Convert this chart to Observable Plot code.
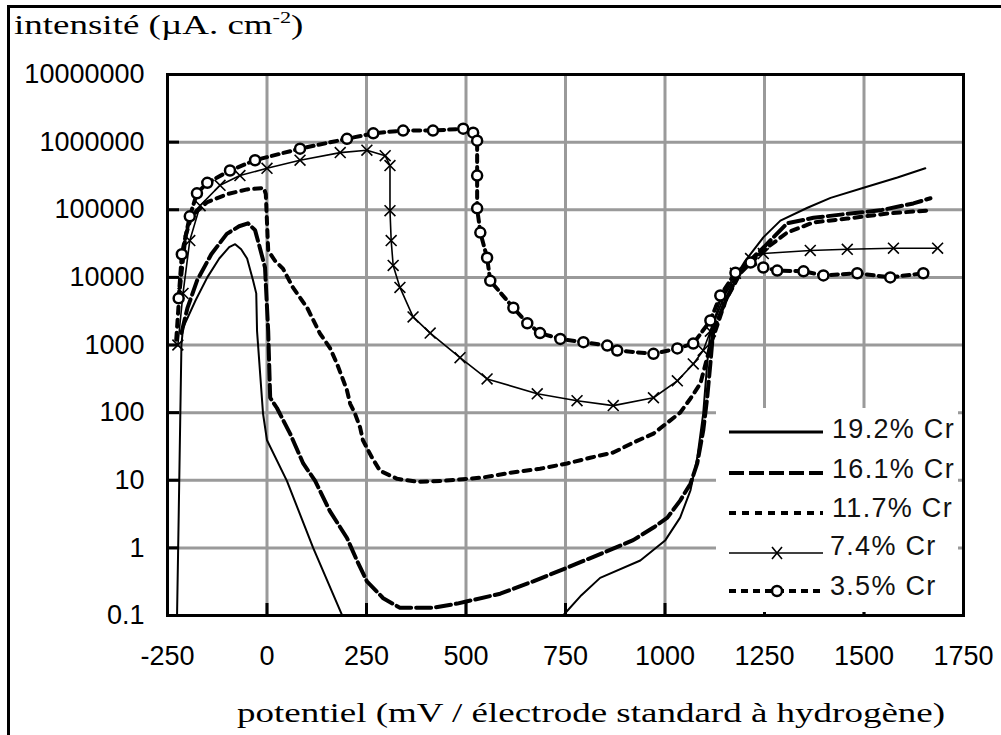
<!DOCTYPE html>
<html>
<head>
<meta charset="utf-8">
<script src="https://cdn.jsdelivr.net/npm/d3@7"></script>
<script src="https://cdn.jsdelivr.net/npm/@observablehq/plot@0.6"></script>
<style>
  body { margin: 0; background: #fff; }
  #wrap { position: relative; width: 1001px; height: 735px; overflow: hidden; background: #fff; }
  #border { position: absolute; left: 7px; top: 5px; width: 1100px; height: 900px;
            border-left: 3px solid #000; border-top: 3px solid #000; }
  #chart { position: absolute; left: 0; top: 0; }
  .serif { position: absolute; font-family: "Liberation Serif", serif; font-size: 27px; line-height: 27px;
           color: #000; white-space: nowrap; transform: scaleX(1.37); transform-origin: 0 50%; }
  .serif sup { font-size: 60%; line-height: 0; vertical-align: 0.7em; }
  #legend { position: absolute; left: 716px; top: 408px; width: 242px; height: 204px; background: #fff; }
  .lg-text { position: absolute; font-family: "Liberation Sans", Arial, sans-serif; font-size: 27px; line-height: 27px;
             letter-spacing: 1.3px; color: #111; white-space: nowrap; }
  #legend svg { position: absolute; left: 0; top: 0; overflow: visible; }
</style>
</head>
<body>
<div id="wrap">
  <div id="border"></div>
  <div id="chart"></div>
  <div class="serif" style="left:14px; top:12px;">intensité (µA. cm<sup>-2</sup>)</div>
  <div class="serif" style="left:237px; top:700px;">potentiel (mV / électrode standard à hydrogène)</div>
  <div id="legend"></div>
</div>
<script>
// Axis ticks and labels
const xTicks = [-250, 0, 250, 500, 750, 1000, 1250, 1500, 1750];
const xTickLabels = ["-250", "0", "250", "500", "750", "1000", "1250", "1500", "1750"];
const yTicks = [0.1, 1, 10, 100, 1000, 10000, 100000, 1000000, 10000000];
const yTickLabels = ["0.1", "1", "10", "100", "1000", "10000", "100000", "1000000", "10000000"];

// Series: potential (mV/ESH) and current density (µA/cm²)
const series = ["19.2% Cr", "16.1% Cr", "11.7% Cr", "7.4% Cr", "3.5% Cr"];

const pot192 = [-226, -222, -215, -211, -180, -150, -120, -95, -80, -65, -50, -35, -27, -25, -10, 0, 50, 116, 189,
  744, 790, 837, 938, 1001, 1038, 1064, 1081, 1096, 1106, 1114, 1150, 1200, 1247, 1290, 1358, 1416, 1499, 1584, 1654];
const int192 = [0.1, 2.7, 1000, 1800, 4500, 10000, 19000, 28000, 31000, 26000, 19000, 9000, 5800, 1600, 97, 39, 9.8, 1, 0.1,
  0.1, 0.2, 0.36, 0.65, 1.3, 2.8, 7.1, 21.5, 97, 530, 1600, 5500, 17000, 39000, 69000, 107000, 150000, 212000, 300000, 410000];

const pot161 = [-215, -200, -176, -140, -101, -70, -48, -30, -18, -5, 3, 8, 25, 58, 91, 121, 158, 201, 226, 251, 292, 334,
  417, 478, 586, 669, 754, 837, 920, 971, 1006, 1038, 1064, 1081, 1096, 1106, 1114, 1121, 1152, 1189, 1247, 1307, 1373,
  1458, 1541, 1624, 1667];
const int161 = [1500, 3500, 8900, 22000, 44000, 57000, 63000, 50000, 27500, 14000, 1600, 166, 117, 49, 17.7, 9.8, 3.5, 1.4,
  0.65, 0.32, 0.18, 0.13, 0.13, 0.15, 0.21, 0.32, 0.51, 0.81, 1.3, 2.0, 2.8, 5.0, 8.9, 17.7, 54, 166, 530, 1600, 4500, 12600,
  27500, 63000, 76000, 87000, 98000, 124000, 148000];

const pot117 = [-228, -220, -205, -190, -150, -100, -50, -8, -3, 3, 20, 40, 65, 101, 133, 158, 176, 189, 201, 209, 221, 234,
  241, 264, 284, 327, 377, 443, 543, 611, 686, 754, 812, 870, 920, 971, 1006, 1038, 1064, 1089, 1114, 1152, 1189, 1247,
  1307, 1373, 1458, 1559, 1667];
const int117 = [1200, 6000, 40000, 80000, 130000, 170000, 200000, 210000, 170000, 25000, 17600, 13500, 7100, 3550, 1480,
  910, 525, 330, 213, 135, 97, 60, 39, 21.5, 13.8, 10.5, 9.5, 9.8, 11, 12.9, 14.8, 17.7, 21.5, 25.7, 36, 49, 71, 100, 162,
  270, 980, 4500, 11500, 25000, 46000, 65000, 74000, 88000, 98000];

const pot74 = [-224, -211, -194, -168, -118, -68, 0, 83, 184, 251, 297, 309, 309, 312, 317, 334, 367, 410, 485, 553, 679,
  779, 870, 971, 1031, 1071, 1096, 1114, 1139, 1177, 1215, 1247, 1365, 1458, 1574, 1685];
const int74 = [1000, 5800, 35000, 115000, 230000, 320000, 410000, 540000, 700000, 760000, 630000, 450000, 97000, 35000,
  15000, 7100, 2600, 1500, 650, 315, 190, 150, 127, 166, 295, 525, 830, 1600, 4500, 11500, 19000, 22500, 25000, 26000,
  27000, 27000];

const pot35 = [-222, -214, -194, -176, -150, -93, -30, 83, 201, 267, 342, 417, 493, 518, 528, 528, 528, 536, 553, 561, 619,
  654, 686, 737, 795, 855, 880, 971, 1031, 1071, 1114, 1139, 1177, 1215, 1247, 1282, 1348, 1398, 1483, 1566, 1649];
const int35 = [4900, 22000, 80000, 175000, 250000, 380000, 540000, 800000, 1120000, 1350000, 1480000, 1480000, 1580000,
  1380000, 1050000, 320000, 105000, 46000, 19500, 8900, 3550, 2100, 1500, 1230, 1100, 980, 830, 740, 890, 1050, 2300, 5400,
  11700, 16600, 14000, 12600, 12300, 10700, 11500, 10000, 11500];

const rows = (pot, cur) => pot.map((p, i) => ({potentiel: p, intensite: cur[i]}));
const d192 = rows(pot192, int192);
const d161 = rows(pot161, int161);
const d117 = rows(pot117, int117);
const d74 = rows(pot74, int74);
const d35 = rows(pot35, int35);

const xLabelOf = new Map(xTicks.map((t, i) => [t, xTickLabels[i]]));
const yLabelOf = new Map(yTicks.map((t, i) => [t, yTickLabels[i]]));

const xy = {x: "potentiel", y: "intensite", clip: true};

const chart = Plot.plot({
  width: 1001,
  height: 735,
  marginLeft: 167,
  marginRight: 38,
  marginTop: 74,
  marginBottom: 120,
  style: {fontFamily: "Liberation Sans, Arial, sans-serif", fontSize: "27px", color: "#000", background: "transparent", overflow: "visible"},
  x: {domain: [-250, 1750]},
  y: {type: "log", domain: [0.1, 1e7]},
  marks: [
    Plot.gridX(xTicks, {stroke: "#9a9a9a", strokeOpacity: 1, strokeWidth: 3}),
    Plot.gridY(yTicks, {stroke: "#9a9a9a", strokeOpacity: 1, strokeWidth: 3}),
    // 19.2% Cr — thin solid
    Plot.line(d192, {...xy, stroke: "#000", strokeWidth: 2}),
    // 16.1% Cr — heavy dashes
    Plot.line(d161, {...xy, stroke: "#000", strokeWidth: 4, strokeDasharray: "15,5"}),
    // 11.7% Cr — heavy dots
    Plot.line(d117, {...xy, stroke: "#000", strokeWidth: 4, strokeDasharray: "7,6"}),
    // 7.4% Cr — thin solid with crosses
    Plot.line(d74, {...xy, stroke: "#000", strokeWidth: 1.6}),
    Plot.dot(d74, {...xy, symbol: "times", r: 5, stroke: "#000", strokeWidth: 1.6}),
    // 3.5% Cr — heavy dots with circles
    Plot.line(d35, {...xy, stroke: "#000", strokeWidth: 4, strokeDasharray: "7,5"}),
    Plot.dot(d35, {...xy, r: 5, fill: "#fff", stroke: "#000", strokeWidth: 2.5}),
    Plot.frame({stroke: "#000", strokeWidth: 3}),
    // inward tick marks
    Plot.axisX(xTicks, {tickSize: -12, strokeWidth: 3, text: null, label: null}),
    Plot.axisY(yTicks, {tickSize: -12, strokeWidth: 3, text: null, label: null}),
    // tick labels
    Plot.axisX(xTicks, {tickSize: 0, tickPadding: 30, tickFormat: d => xLabelOf.get(d), label: null, fill: "#000"}),
    Plot.axisY(yTicks, {tickSize: 0, tickPadding: 23, tickFormat: d => yLabelOf.get(d), label: null, fill: "#000"})
  ]
});
document.getElementById("chart").appendChild(chart);

// Legend: line samples and labels
const legend = d3.select("#legend");
const lg = legend.append("svg").attr("width", 242).attr("height", 204);
const rowText = [21, 61, 100, 138, 178];   // label centre offsets inside the box
const rowLine = [24, 65, 105, 145, 183];   // sample offsets inside the box
const styles = [
  {w: 3, dash: null},
  {w: 4, dash: "15,5"},
  {w: 4, dash: "7,6"},
  {w: 1.6, dash: null, mark: "times"},
  {w: 4, dash: "7,5", mark: "circle"}
];
series.forEach((name, i) => {
  const s = styles[i];
  const y = rowLine[i];
  const ln = lg.append("line").attr("x1", 13).attr("x2", 107).attr("y1", y).attr("y2", y)
    .attr("stroke", "#000").attr("stroke-width", s.w);
  if (s.dash) ln.attr("stroke-dasharray", s.dash);
  if (s.mark === "times") {
    lg.append("path").attr("d", `M${61 - 5},${y - 6}L${61 + 5},${y + 6}M${61 - 5},${y + 6}L${61 + 5},${y - 6}`)
      .attr("stroke", "#000").attr("stroke-width", 1.6);
  }
  if (s.mark === "circle") {
    lg.append("circle").attr("cx", 61).attr("cy", y).attr("r", 5).attr("fill", "#fff")
      .attr("stroke", "#000").attr("stroke-width", 2.5);
  }
  legend.append("div").attr("class", "lg-text")
    .style("left", (i >= 3 ? 114 : 116) + "px")
    .style("top", (rowText[i] - 13.5) + "px")
    .text(name);
});
</script>
</body>
</html>
